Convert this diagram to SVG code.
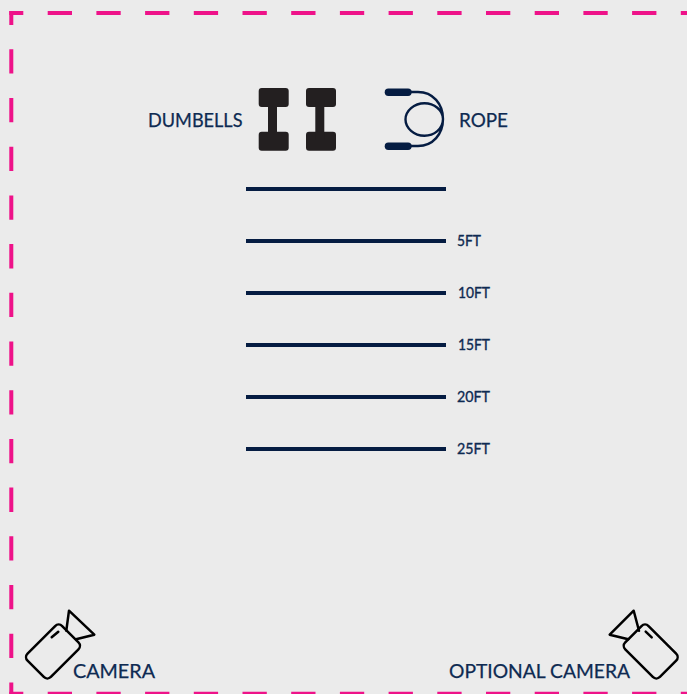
<svg xmlns="http://www.w3.org/2000/svg" width="687" height="694" viewBox="0 0 687 694">
<style>
.b{fill:none;stroke:#ee1289;stroke-width:4;stroke-dasharray:24.3 24.4}
.l{stroke:#051c42;stroke-width:4;fill:none}
.t{font-family:"Lato","Liberation Sans",sans-serif;fill:#0e2a52;font-size:19px;stroke:#0e2a52;stroke-width:.25}
.s{font-size:15px;stroke-width:.35}
.d{fill:#231f20}
.r{fill:none;stroke:#051c42;stroke-width:2.4}
.h{fill:#051c42}
.c{fill:none;stroke:#000;stroke-width:2.5;stroke-linejoin:round;stroke-linecap:round}
</style>
<rect width="687" height="694" fill="#ebebeb"/>
<g id="border">
<path class="b" stroke-dashoffset="10.3" d="M9.300 13H700"/>
<path class="b" stroke-dashoffset="10.3" d="M9.300 693.700H700"/>
<path class="b" stroke-dashoffset="10.4" d="M11.300 11V694"/>
</g>
<g id="lines">
<path class="l" d="M246 189H446"/><path class="l" d="M246 241H446"/><path class="l" d="M246 293H446"/><path class="l" d="M246 345H446"/><path class="l" d="M246 397H446"/><path class="l" d="M246 449H446"/>
</g>
<g id="distance-labels">
<text class="t s" x="457" y="246" textLength="24" lengthAdjust="spacingAndGlyphs">5FT</text>
<text class="t s" x="458" y="298" textLength="32" lengthAdjust="spacingAndGlyphs">10FT</text>
<text class="t s" x="458" y="350" textLength="32" lengthAdjust="spacingAndGlyphs">15FT</text>
<text class="t s" x="457" y="402" textLength="33" lengthAdjust="spacingAndGlyphs">20FT</text>
<text class="t s" x="457" y="454" textLength="33" lengthAdjust="spacingAndGlyphs">25FT</text>
</g>
<g id="dumbbells">
<rect class="d" x="258.700" y="88" width="30" height="19" rx="3"/><rect class="d" x="258.700" y="131.700" width="30" height="19" rx="3"/><rect class="d" x="268" y="100" width="9" height="40"/>
<rect class="d" x="306" y="88" width="30" height="19" rx="3"/><rect class="d" x="306" y="131.700" width="30" height="19" rx="3"/><rect class="d" x="315.300" y="100" width="9" height="40"/>
<text class="t" x="148" y="127" textLength="94.500" lengthAdjust="spacingAndGlyphs">DUMBELLS</text>
</g>
<g id="rope">
<rect class="h" x="384.700" y="88.500" width="27" height="7.500" rx="3.700"/><rect class="h" x="384.700" y="142.500" width="27" height="7.500" rx="3.700"/>
<path class="r" d="M411 92H418C433 92 443 104 443 119C443 129 434 135.700 424.500 135.700C414 135.700 405.500 128 405.500 119.500C405.500 111 414 103.300 424.500 103.300C434 103.300 443 110 443 119C443 134 433 146 418 146H411"/>
<text class="t" x="459" y="127" textLength="49" lengthAdjust="spacingAndGlyphs">ROPE</text>
</g>
<g id="camera">
<rect class="c" x="36.500" y="627" width="33" height="49" rx="5" transform="rotate(45 53 651.500)"/>
<path class="c" d="M51.700 637.300L58.300 631.700M66.300 630.700L69 610.700L94.300 634.700L76 639.300"/>
<text class="t" x="73" y="678" textLength="82" lengthAdjust="spacingAndGlyphs">CAMERA</text>
</g>
<g id="optional-camera">
<rect class="c" x="634.200" y="627" width="33" height="49" rx="5" transform="rotate(-45 650.700 651.500)"/>
<path class="c" d="M651.700 637.300L645.700 631.700M639 630.700L633.700 610.700L609.700 634.700L628.300 639.300"/>
<text class="t" x="449" y="678" textLength="181" lengthAdjust="spacingAndGlyphs">OPTIONAL CAMERA</text>
</g>
</svg>
